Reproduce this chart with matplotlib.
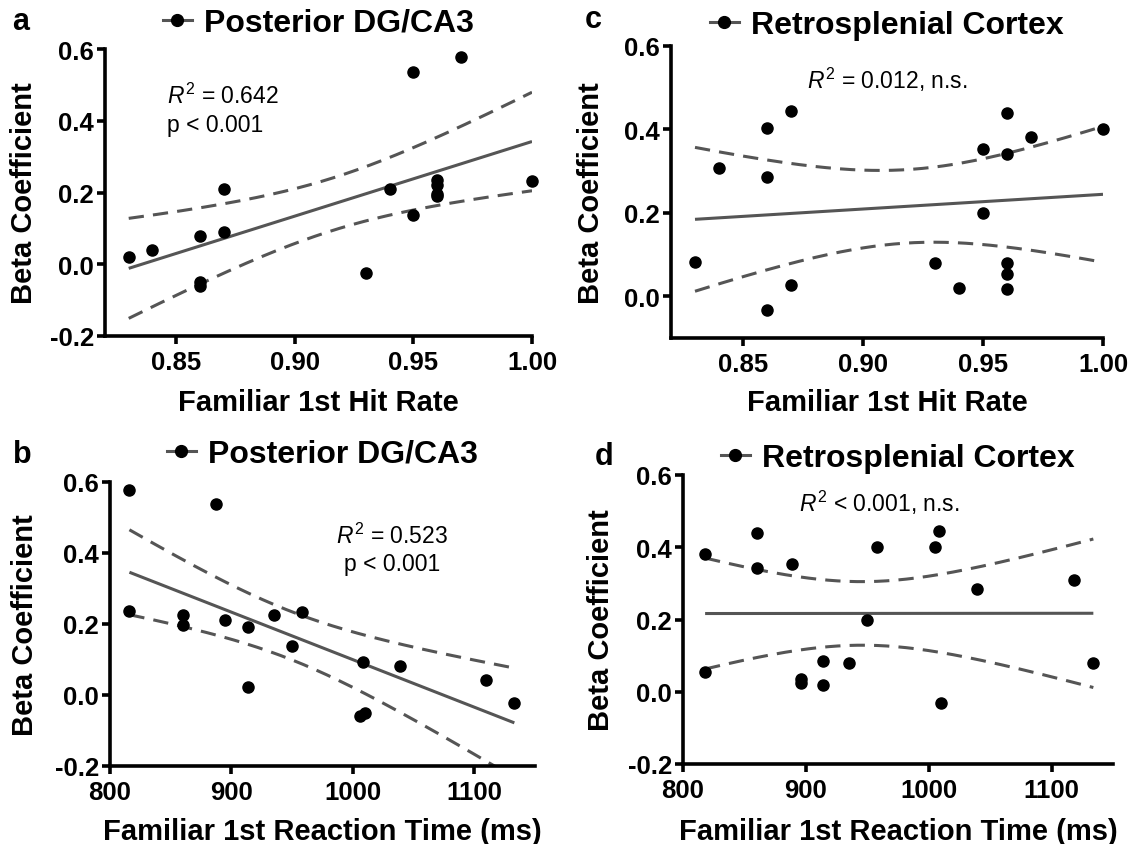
import numpy as np
import matplotlib
matplotlib.use('Agg')
import matplotlib.pyplot as plt
from matplotlib.lines import Line2D

plt.rcParams['font.family'] = ['Liberation Sans', 'DejaVu Sans']
plt.rcParams['font.weight'] = 'bold'
plt.rcParams['mathtext.fontset'] = 'custom'
plt.rcParams['mathtext.rm'] = 'Liberation Sans:normal'
plt.rcParams['mathtext.it'] = 'Liberation Sans:italic:normal'
plt.rcParams['mathtext.bf'] = 'Liberation Sans:bold'
plt.rcParams['axes.unicode_minus'] = False

# ---------------- data ----------------
hit_a = [0.83, 0.84, 0.86, 0.86, 0.86, 0.87, 0.87, 0.93, 0.94, 0.95, 0.95,
         0.96, 0.96, 0.96, 0.96, 0.97, 1.00]
beta_a = [0.020, 0.040, 0.080, -0.050, -0.062, 0.209, 0.091, -0.023, 0.209,
          0.537, 0.138, 0.234, 0.222, 0.197, 0.190, 0.577, 0.233]

rt_b = [816, 816, 887, 860, 860, 895, 914, 914, 935, 950, 958, 1008, 1006,
        1010, 1039, 1110, 1133]
beta_b = [0.577, 0.236, 0.538, 0.225, 0.197, 0.211, 0.192, 0.023, 0.225,
          0.139, 0.234, 0.092, -0.059, -0.050, 0.082, 0.042, -0.022]

hit_c = [0.83, 0.84, 0.86, 0.86, 0.86, 0.87, 0.87, 0.93, 0.94, 0.95, 0.95,
         0.96, 0.96, 0.96, 0.96, 0.96, 0.97, 1.00]
beta_c = [0.083, 0.308, 0.403, 0.285, -0.032, 0.444, 0.028, 0.079, 0.020,
          0.353, 0.199, 0.440, 0.341, 0.079, 0.053, 0.018, 0.381, 0.400]

rt_d = [818, 818, 860, 860, 889, 896, 896, 914, 914, 935, 950, 958, 1005,
        1008, 1010, 1039, 1118, 1134]
beta_d = [0.381, 0.055, 0.440, 0.342, 0.354, 0.034, 0.023, 0.086, 0.020,
          0.080, 0.200, 0.400, 0.402, 0.444, -0.031, 0.285, 0.308, 0.080]

titles = ['Posterior DG/CA3', 'Posterior DG/CA3', 'Retrosplenial Cortex', 'Retrosplenial Cortex']
panel_letters = ['a', 'b', 'c', 'd']
annot = [r'$R^2$ = 0.642' + '\n' + 'p < 0.001',
         r'$R^2$ = 0.523' + '\n' + 'p < 0.001',
         r'$R^2$ = 0.012, n.s.',
         r'$R^2$ < 0.001, n.s.']
xlabel_hit = 'Familiar 1st Hit Rate'
xlabel_rt = 'Familiar 1st Reaction Time (ms)'
ylabel = 'Beta Coefficient'
hit_ticks = [0.85, 0.90, 0.95, 1.00]
hit_ticklabels = ['0.85', '0.90', '0.95', '1.00']
rt_ticks = [800, 900, 1000, 1100]
rt_ticklabels = ['800', '900', '1000', '1100']
beta_ticks = [-0.2, 0.0, 0.2, 0.4, 0.6]
beta_ticklabels = ['-0.2', '0.0', '0.2', '0.4', '0.6']
T_CRIT = 2.12

W, H = 1136, 845
fig = plt.figure(figsize=(W / 100, H / 100), dpi=100)


def rect(l, r, t, b):
    return [l / W, 1 - b / H, (r - l) / W, (b - t) / H]


def fit_band(x, y):
    x = np.asarray(x, float)
    y = np.asarray(y, float)
    n = len(x)
    slope, icpt = np.polyfit(x, y, 1)
    xs = np.linspace(x.min(), x.max(), 200)
    yhat = icpt + slope * xs
    resid = y - (icpt + slope * x)
    s = np.sqrt(np.sum(resid ** 2) / (n - 2))
    xm = x.mean()
    se = s * np.sqrt(1.0 / n + (xs - xm) ** 2 / np.sum((x - xm) ** 2))
    return xs, yhat, yhat - T_CRIT * se, yhat + T_CRIT * se


GRAY = '#555555'

panels = [
    dict(x=hit_a, y=beta_a, r=(105, 532, 50, 337), xlim=(0.82, 1.00), ylim=(-0.2, 0.6),
         xt=hit_ticks, xtl=hit_ticklabels, yt=beta_ticks, ytl=beta_ticklabels,
         xl=xlabel_hit, ap=(0.846, 0.372), aha='left', ly=24, lp=(12, 30), ylx=24, xly=403),
    dict(x=rt_b, y=beta_b, r=(110, 535, 483, 767), xlim=(800, 1150), ylim=(-0.2, 0.6),
         xt=rt_ticks, xtl=rt_ticklabels, yt=beta_ticks, ytl=beta_ticklabels,
         xl=xlabel_rt, ap=(1032, 0.352), aha='center', ly=455, lp=(13, 463), ylx=25, xly=832),
    dict(x=hit_c, y=beta_c, r=(671, 1103, 47, 339), xlim=(0.82, 1.00), ylim=(-0.1, 0.6),
         xt=hit_ticks, xtl=hit_ticklabels, yt=beta_ticks[1:], ytl=beta_ticklabels[1:],
         xl=xlabel_hit, ap=(0.91, 0.50), aha='center', ly=26, lp=(585, 28), ylx=591, xly=403),
    dict(x=rt_d, y=beta_d, r=(683, 1113, 476, 765), xlim=(800, 1150), ylim=(-0.2, 0.6),
         xt=rt_ticks, xtl=rt_ticklabels, yt=beta_ticks, ytl=beta_ticklabels,
         xl=xlabel_rt, ap=(960, 0.50), aha='center', ly=459, lp=(595, 465), ylx=601, xly=832),
]

for i, p in enumerate(panels):
    l, r, t, b = p['r']
    ax = fig.add_axes(rect(l, r, t, b))
    xs, yhat, lo, hi = fit_band(p['x'], p['y'])
    ax.plot(xs, yhat, color=GRAY, lw=2.2, solid_capstyle='butt')
    ax.plot(xs, lo, color=GRAY, lw=2.2, dashes=(5, 3))
    ax.plot(xs, hi, color=GRAY, lw=2.2, dashes=(5, 3))
    ax.plot(p['x'], p['y'], 'o', color='black', markersize=8, clip_on=False, zorder=5)
    ax.set_xlim(*p['xlim'])
    ax.set_ylim(*p['ylim'])
    ax.set_xticks(p['xt'])
    ax.set_xticklabels(p['xtl'])
    ax.set_yticks(p['yt'])
    ax.set_yticklabels(p['ytl'])
    for s in ('top', 'right'):
        ax.spines[s].set_visible(False)
    for s in ('left', 'bottom'):
        ax.spines[s].set_linewidth(2.6)
    ax.tick_params(direction='out', length=6, width=2.6, labelsize=18.5, pad=2)
    ax.tick_params(axis='x', pad=4)
    for lab in ax.get_xticklabels() + ax.get_yticklabels():
        lab.set_fontweight('bold')
    ax.set_xlabel(p['xl'], fontsize=21, fontweight='bold', va='center')
    ax.set_ylabel(ylabel, fontsize=21, fontweight='bold', va='center')
    ax.xaxis.set_label_coords(0.5, (b - p['xly']) / (b - t))
    ax.yaxis.set_label_coords((p['ylx'] - l) / (r - l), 0.5)
    ax.text(p['ap'][0], p['ap'][1], annot[i], fontsize=16.5, fontweight='normal',
            ha=p['aha'], va='baseline', multialignment=p['aha'], linespacing=1.25)
    handle = Line2D([], [], color=GRAY, lw=2.2, marker='o', markersize=8.5,
                    markerfacecolor='black', markeredgecolor='black')
    ax.legend([handle], [titles[i]], loc='center',
              bbox_to_anchor=((l + r) / 2 / W, 1 - p['ly'] / H),
              bbox_transform=fig.transFigure, frameon=False,
              prop=dict(size=23, weight='bold'), handlelength=0.9,
              handletextpad=0.4, borderpad=0, borderaxespad=0)
    fig.text(p['lp'][0] / W, 1 - p['lp'][1] / H, panel_letters[i], fontsize=22,
             fontweight='bold', ha='left', va='baseline')

fig.savefig('out.png', dpi=100)
